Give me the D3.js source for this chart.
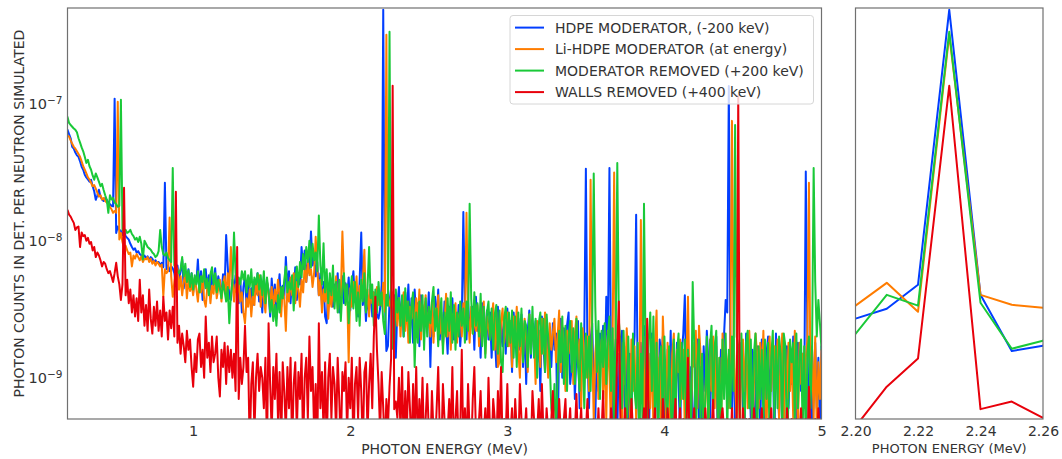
<!DOCTYPE html>
<html>
<head>
<meta charset="utf-8">
<script src="https://cdn.jsdelivr.net/npm/d3@7"></script>
<style>
  body { margin: 0; background: #fff; }
  svg { display: block; }
</style>
</head>
<body>
<svg id="chart" width="1062" height="459"></svg>
<script>
// Spectra binned at 10 keV starting at 0.16 MeV; counts stored in units of 1e-10
const E_START = 0.16;
const E_STEP = 0.01;
const UNIT = 1e-10;

const hdpe = [
  720, 700, 690, 670,
  660, 650, 646, 600, 560, 485, 470, 440, 420, 410,
  380, 347, 330, 303, 290, 280, 270, 279, 250, 230,
  199, 215, 236, 210, 200, 195, 205, 199, 190, 185,
  180, 178, 1090, 114, 127, 120, 118, 110, 120, 108,
  105, 102, 95, 90, 86, 88, 82, 84, 80, 78,
  76, 78, 74, 77, 72, 76, 74, 70, 72, 69,
  70, 66, 69, 64, 265, 62, 66, 60, 65, 63,
  58, 48, 66, 52, 60, 73, 45, 57, 50, 62,
  46, 58, 42, 54, 49, 73, 44, 60, 37, 52,
  62, 45, 56, 40, 58, 47, 63, 43, 55, 48,
  40, 57, 44, 110, 65, 38, 37, 52, 43, 56,
  48, 35, 52, 30, 46, 55, 33, 49, 38, 45,
  34, 52, 41, 58, 36, 47, 30, 55, 39, 50,
  44, 28, 53, 36, 48, 27, 42, 57, 33, 47,
  38, 76, 45, 60, 35, 55, 42, 64, 37, 58,
  48, 90, 62, 85, 50, 72, 58, 117, 66, 80,
  55, 70, 40, 58, 34, 50, 28, 25, 46, 36,
  52, 33, 48, 40, 58, 30, 45, 55, 35, 49,
  38, 54, 31, 46, 60, 36, 43, 28, 52, 115,
  34, 45, 26, 40, 30, 48, 28, 42, 33, 29,
  27, 31.9, 47.7, 4853, 40.3, 15.7, 17.1, 36, 45, 22,
  40, 14, 33, 46, 24, 38, 20, 42, 28, 48,
  22, 38, 18, 44, 26, 35, 17, 40, 30, 21,
  36, 24, 42, 12, 33, 20, 39, 25, 44, 19,
  30, 18, 36, 24, 15, 33, 22, 38, 19, 28,
  20, 34, 17, 26, 162, 31, 19, 36, 22, 29,
  33, 16, 39, 22, 28, 14, 35, 24, 18, 31,
  19, 30, 14, 27, 21, 12, 33, 13, 25, 17,
  28, 15, 32, 18, 26, 11, 30, 20, 14, 27,
  16, 29, 12, 25, 9, 22, 31, 14, 24, 18,
  26, 13, 22, 8, 28, 17, 11, 24, 15, 20,
  12, 25, 16, 21, 3, 19, 27, 10, 23, 14,
  24, 30, 9, 12, 20, 7, 16, 26, 6, 18,
  11, 22, 335, 15, 6, 19, 25, 9, 5, 17,
  8, 21, 13, 24, 10, 39, 18, 340, 14, 4,
  12, 19, 4, 15, 7, 22, 10, 5, 17, 3,
  15, 6, 13, 20, 155, 9, 4, 18, 8, 24,
  6, 16, 3, 12, 21, 9, 5, 17, 4, 19,
  14, 20, 7, 3, 16, 8, 22, 4, 13, 6,
  18, 9, 4, 15, 21, 40, 7, 17, 3, 12,
  6, 3, 14, 19, 5, 12, 4, 17, 8, 22,
  13, 4, 18, 7, 15, 20, 3, 6, 16, 9,
  21, 37, 30, 1350, 14, 6, 19, 4, 8, 17,
  9, 18, 6, 4, 21, 19, 12, 5, 16, 3,
  7, 17, 13, 4, 19, 8, 5, 15, 20, 6,
  14, 18, 3, 21, 10, 5, 16, 7, 19, 9,
  17, 6, 14, 9, 20, 13, 5, 18, 11, 8,
  15, 7, 320, 20, 4, 16, 3, 9, 18, 6,
  14, 4, 17, 10, 6
];

const liHdpe = [
  620, 610, 600, 590,
  585, 575, 540, 510, 485, 470, 450, 430, 410, 380,
  350, 330, 310, 290, 280, 265, 250, 255, 240, 225,
  210, 215, 200, 205, 195, 190, 185, 177, 170, 160,
  165, 160, 1035, 102, 114, 98, 88, 92, 85, 80,
  82, 65, 78, 74, 80, 76, 72, 77, 70, 74,
  73, 76, 70, 74, 68, 71, 66, 70, 68, 65,
  67, 39, 62, 58, 60, 148, 55, 39, 50, 65,
  62, 44, 55, 40, 50, 58, 38, 52, 43, 48,
  40, 53, 45, 36, 50, 42, 55, 37, 33, 46,
  49, 35, 47, 41, 56, 38, 45, 52, 36, 48,
  55, 40, 58, 45, 90, 52, 36, 48, 41, 50,
  36, 42, 30, 25, 38, 33, 44, 28, 40, 34,
  52, 40, 56, 33, 48, 38, 30, 50, 42, 35,
  46, 31, 44, 36, 52, 40, 28, 45, 38, 22,
  48, 36, 54, 40, 58, 35, 50, 44, 33, 52,
  42, 65, 50, 70, 56, 62, 46, 58, 107, 64,
  40, 52, 30, 44, 36, 48, 27, 42, 33, 46,
  36, 55, 32, 48, 40, 117, 52, 38, 45, 13,
  45, 33, 50, 36, 55, 30, 47, 39, 52, 86,
  32, 44, 28, 48, 35, 42, 30, 46, 34, 40,
  33.6, 49.3, 30.3, 3188, 40.3, 34.1, 32.4, 42, 26, 36,
  24, 38, 20, 34, 42, 22, 36, 18, 33, 27,
  35, 21, 38, 25, 44, 19, 34, 27, 40, 23,
  30, 20, 36, 18, 32, 26, 40, 21, 29, 17,
  24, 41, 20, 32, 16, 29, 22, 35, 18, 27,
  31, 20, 35, 23, 160, 30, 18, 33, 21, 28,
  22, 34, 17, 29, 20, 36, 15, 28, 23, 19,
  27, 35, 16, 30, 12, 13, 26, 32, 18, 24,
  30, 17, 26, 12, 28, 20, 33, 16, 10, 25,
  14, 27, 19, 11, 29, 16, 24, 21, 9, 26,
  22, 12, 27, 15, 30, 18, 10, 25, 16, 21,
  27, 13, 20, 31, 11, 24, 17, 8, 22, 15,
  18, 26, 9, 21, 28, 12, 19, 6, 23, 13,
  10, 20, 8, 279, 17, 5, 15, 22, 7, 14,
  19, 7, 17, 5, 22, 11, 4, 18, 315, 12,
  16, 21, 6, 4, 18, 9, 23, 13, 5, 19,
  8, 17, 5, 14, 6, 142, 15, 4, 20, 7,
  15, 6, 19, 4, 17, 31, 7, 14, 4, 28,
  13, 5, 18, 9, 3, 15, 21, 6, 16, 11,
  19, 7, 16, 4, 13, 39, 8, 5, 18, 12,
  22, 6, 24, 15, 9, 4, 7, 16, 3, 19,
  8, 20, 6, 17, 5, 14, 4, 21, 11, 16,
  13, 6, 18, 750, 20, 9, 5, 17, 4, 14,
  19, 8, 16, 6, 22, 12, 3, 9, 21, 15,
  6, 18, 10, 22, 7, 4, 16, 20, 8, 14,
  17, 9, 19, 5, 13, 21, 4, 16, 7, 18,
  8, 16, 5, 22, 12, 4, 18, 9, 15, 6,
  14, 19, 265, 8, 17, 5, 20, 4, 13, 7,
  16, 6, 14, 4, 9
];

const moderatorRemoved = [
  880, 850, 800, 725,
  700, 680, 660, 645, 620, 560, 520, 480, 450, 410,
  370, 390, 350, 330, 300, 279, 310, 290, 270, 250,
  260, 235, 215, 199, 160, 215, 200, 205, 190, 185,
  177, 180, 1070, 120, 118, 120, 114, 116, 120, 112,
  108, 102, 105, 98, 107, 95, 73, 100, 95, 90,
  88, 86, 82, 80, 76, 78, 84, 120, 90, 80,
  78, 82, 75, 72, 70, 340, 66, 62, 60, 58,
  62, 76, 55, 68, 50, 61, 46, 58, 44, 56,
  48, 60, 42, 55, 50, 62, 45, 53, 40, 57,
  64, 48, 58, 42, 52, 45, 38, 50, 43, 36,
  46, 25, 40, 50, 115, 58, 44, 54, 48, 60,
  52, 60, 42, 56, 46, 62, 40, 54, 48, 58,
  44, 56, 40, 60, 35, 54, 42, 30, 37, 26,
  34, 24, 40, 30, 46, 38, 52, 65, 42, 50,
  44, 56, 31, 52, 65, 46, 70, 54, 80, 62,
  90, 70, 100, 64, 95, 72, 82, 60, 153, 66,
  48, 96, 42, 62, 35, 58, 40, 66, 32, 50,
  30, 52, 26, 44, 58, 34, 48, 25, 40, 55,
  32, 50, 26, 42, 24, 52, 36, 58, 30, 46,
  90, 38, 48, 24, 44, 30, 50, 34, 42, 26,
  20.9, 40.3, 33.6, 3355, 35.3, 16.3, 18.6, 44, 30, 38,
  24, 40, 20, 45, 26, 36, 18, 34, 42, 12,
  30, 18, 36, 22, 40, 16, 38, 20, 33, 25,
  36, 46, 22, 32, 17, 28, 38, 15, 30, 20,
  38, 22, 42, 18, 34, 16, 30, 20, 36, 24,
  32, 18, 36, 22, 186, 38, 21, 42, 24, 35,
  20, 41, 17, 33, 14, 30, 36, 19, 32, 16,
  29, 34, 15, 31, 13, 11, 27, 33, 17, 30,
  18, 31, 14, 28, 12, 30, 17, 32, 13, 26,
  24, 12, 29, 15, 33, 14, 27, 10, 25, 30,
  15, 27, 11, 29, 20, 13, 6, 5, 9, 4,
  10, 22, 13, 28, 9, 24, 8, 20, 26, 11,
  23, 9, 27, 12, 8, 25, 14, 6, 21, 10,
  20, 8, 24, 310, 33, 11, 26, 7, 22, 12,
  25, 9, 20, 28, 8, 23, 5, 19, 370, 26,
  18, 6, 22, 9, 3, 20, 7, 5, 21, 8,
  6, 18, 3, 15, 5, 186, 16, 4, 19, 30,
  8, 28, 5, 18, 3, 14, 17, 4, 20, 7,
  5, 17, 7, 3, 19, 4, 15, 21, 6, 18,
  7, 19, 4, 16, 8, 5, 50, 17, 3, 13,
  19, 5, 15, 3, 7, 20, 4, 17, 24, 6,
  17, 22, 5, 14, 3, 19, 7, 21, 4, 16,
  6, 20, 8, 700, 20, 17, 5, 21, 8, 4,
  18, 22, 6, 19, 4, 15, 21, 3, 17, 7,
  16, 5, 19, 7, 18, 3, 14, 22, 5, 17,
  6, 20, 15, 4, 21, 17, 3, 7, 19, 13,
  18, 5, 21, 6, 14, 19, 4, 17, 3, 15,
  20, 6, 17, 340, 50, 20, 37, 25, 16, 30,
  22, 18, 12, 15, 10
];

const wallsRemoved = [
  168, 155, 150, 142,
  135, 120, 125, 127, 90, 115, 108, 110, 100, 105,
  95, 98, 85, 90, 76, 82, 78, 72, 65, 70,
  68, 62, 58, 60, 55, 50, 58, 69, 55, 48,
  37, 48, 244, 40, 52, 35, 44, 30, 40, 28,
  38, 26, 52, 30, 40, 24, 34, 22, 44, 27,
  21, 33, 24, 36, 22, 31, 20, 39, 26, 30,
  19, 31, 23, 33, 20, 228, 18, 24, 15, 21,
  17, 13, 22, 16, 19, 12, 8.6, 15, 11, 19,
  21, 12, 16, 10, 28, 14, 18, 11, 20, 13,
  15, 20, 10, 7.3, 16, 12, 18, 9, 17, 11,
  16, 10, 15, 8, 90, 7, 14, 9, 12, 24,
  11, 14, 3, 9, 13, 4, 10, 15, 8, 12,
  10, 6, 14, 3, 25, 9, 4, 12, 7, 15,
  5, 11, 3, 13, 8, 4, 12, 6, 14, 3,
  9, 13, 4, 11, 7, 15, 3, 10, 14, 5,
  20, 8, 12, 4, 9, 3, 25, 6, 11, 4,
  13, 3, 10, 15, 5, 12, 9, 4, 14, 7,
  3, 11, 8, 13, 4, 10, 6, 14, 3, 9,
  12, 5, 14, 8, 3, 11, 13, 4, 9, 15,
  6, 20, 39, 16, 9, 4, 11, 6, 3, 7,
  4.4, 8.6, 13.8, 1353, 5.9, 6.7, 5.1, 10, 4, 12,
  3, 8, 4, 11, 6, 3, 9, 4, 12, 3,
  7, 4, 10, 3, 5, 9, 4, 3, 8, 4,
  3, 6, 12, 4, 3, 9, 5, 3, 4, 7,
  4, 12, 3, 5, 8, 3, 4, 16, 3, 6,
  3, 9, 4, 3, 7, 12, 4, 3, 5, 8,
  3, 4, 6, 3, 10, 4, 3, 7, 5, 3,
  8, 4, 12, 3, 5, 4, 9, 3, 4, 6,
  3, 7, 4, 3, 9, 5, 3, 4, 6, 3,
  4, 3, 8, 5, 3, 4, 7, 3, 9, 4,
  3, 6, 4, 3, 5, 8, 3, 4, 3, 7,
  4, 3, 5, 7, 3, 4, 6, 3, 5, 4,
  7.6, 3, 4, 6, 3, 5, 4, 7, 3, 4,
  3, 5, 4, 3, 6, 3, 4, 8, 3, 5,
  4, 3, 6, 4, 3, 5, 17, 36, 5, 3,
  4, 6, 3, 5, 3, 7, 4, 3, 5, 4,
  3, 5, 4, 6, 3, 27, 4, 3, 5, 4,
  6, 3, 4, 5, 3, 7, 4, 3, 6, 4,
  3, 5, 4, 7, 3, 4, 6, 3, 5, 4,
  4, 14, 3, 5, 4, 6, 3, 4, 5, 3,
  5, 3, 6, 4, 3, 5, 4, 6.9, 3, 5,
  4, 3, 5, 6, 4, 3, 5, 4, 3, 6,
  3, 5, 4, 1150, 4, 3, 6, 4, 5, 3,
  5, 4, 3, 6, 4, 5, 3, 4, 6, 3,
  4, 3, 5, 4, 6, 3, 4, 5, 3, 4,
  3, 5, 4, 3, 6, 4, 3, 5, 4, 3,
  5, 3, 4, 6, 3, 4, 5, 3, 8.6, 4,
  3, 4, 5, 3, 6, 4, 3, 5, 4, 3,
  4, 3, 5, 4, 3
];

const seriesLabels = [
  "HDPE MODERATOR, (-200 keV)",
  "Li-HDPE MODERATOR (at energy)",
  "MODERATOR REMOVED (+200 keV)",
  "WALLS REMOVED (+400 keV)"
];
const seriesColors = ["#023eff", "#ff7c00", "#1ac938", "#e8000b"];
// horizontal display offset of each spectrum in the overview panel (MeV)
const seriesOffsets = [-0.02, 0, 0.02, 0.04];

const xTicksMain = [1, 2, 3, 4, 5];
const xTicksZoom = [2.20, 2.22, 2.24, 2.26];
const yTicks = [1e-9, 1e-8, 1e-7];
const xDomainMain = [0.2, 5.0];
const xDomainZoom = [2.20, 2.26];
const yDomain = [5e-10, 5e-7];

const xLabel = "PHOTON ENERGY (MeV)";
const yLabel = "PHOTON COUNTS IN DET. PER NEUTRON SIMULATED";

// ---------------------------------------------------------------
const FONT = "'DejaVu Sans', 'Liberation Sans', sans-serif";
const TEXT_COLOR = "#333";
const FRAME_COLOR = "#707070";

const svg = d3.select("#chart");
svg.append("rect").attr("width", 1062).attr("height", 459).attr("fill", "#fff");

const mainBox = { left: 67.5, right: 821.5, top: 8, bottom: 419 };
const zoomBox = { left: 855.5, right: 1043, top: 8, bottom: 419 };

const x = d3.scaleLinear().domain(xDomainMain).range([mainBox.left, mainBox.right]);
const xz = d3.scaleLinear().domain(xDomainZoom).range([zoomBox.left, zoomBox.right]);
const y = d3.scaleLog().domain(yDomain).range([mainBox.bottom, mainBox.top]);

const raw = [hdpe, liHdpe, moderatorRemoved, wallsRemoved];
raw.forEach((arr, k) => {
  if (arr.length !== raw[0].length) throw new Error("series " + k + " has " + arr.length + " bins");
});

const series = raw.map((vals, k) => ({
  label: seriesLabels[k],
  color: seriesColors[k],
  offset: seriesOffsets[k],
  points: vals.map((v, i) => ({ e: +(E_START + i * E_STEP).toFixed(2), v: v * UNIT }))
}));

const defs = svg.append("defs");
defs.append("clipPath").attr("id", "clip-main").append("rect")
  .attr("x", mainBox.left).attr("y", mainBox.top)
  .attr("width", mainBox.right - mainBox.left).attr("height", mainBox.bottom - mainBox.top);
defs.append("clipPath").attr("id", "clip-zoom").append("rect")
  .attr("x", zoomBox.left).attr("y", zoomBox.top)
  .attr("width", zoomBox.right - zoomBox.left).attr("height", zoomBox.bottom - zoomBox.top);

// overview spectra
const gMain = svg.append("g").attr("clip-path", "url(#clip-main)");
series.forEach(s => {
  const line = d3.line().x(d => x(d.e + s.offset)).y(d => y(d.v));
  gMain.append("path")
    .datum(s.points)
    .attr("d", line)
    .attr("fill", "none")
    .attr("stroke", s.color)
    .attr("stroke-width", 2)
    .attr("stroke-linejoin", "round");
});

// close-up of the 2.23 MeV capture line (no offsets)
const gZoom = svg.append("g").attr("clip-path", "url(#clip-zoom)");
series.forEach(s => {
  const line = d3.line().x(d => xz(d.e)).y(d => y(d.v));
  gZoom.append("path")
    .datum(s.points.filter(d => d.e >= 2.15 && d.e <= 2.31))
    .attr("d", line)
    .attr("fill", "none")
    .attr("stroke", s.color)
    .attr("stroke-width", 2)
    .attr("stroke-linejoin", "round");
});

// frames
[mainBox, zoomBox].forEach(b => {
  svg.append("rect")
    .attr("x", b.left).attr("y", b.top)
    .attr("width", b.right - b.left).attr("height", b.bottom - b.top)
    .attr("fill", "none").attr("stroke", FRAME_COLOR).attr("stroke-width", 1.2);
});

// axes
function styleAxis(g, size) {
  g.attr("font-family", FONT).attr("font-size", size).style("color", TEXT_COLOR);
  g.select(".domain").remove();
  g.selectAll(".tick line").remove();
}

svg.append("g")
  .attr("transform", `translate(0,${mainBox.bottom})`)
  .call(d3.axisBottom(x).tickValues(xTicksMain).tickFormat(d3.format("d")).tickSize(0).tickPadding(7))
  .call(g => styleAxis(g, 14.5));

svg.append("g")
  .attr("transform", `translate(0,${zoomBox.bottom})`)
  .call(d3.axisBottom(xz).tickValues(xTicksZoom).tickFormat(d3.format(".2f")).tickSize(0).tickPadding(7))
  .call(g => styleAxis(g, 14));

const gy = svg.append("g")
  .attr("transform", `translate(${mainBox.left},0)`)
  .call(d3.axisLeft(y).tickValues(yTicks).tickFormat(() => "").tickSize(0).tickPadding(5))
  .call(g => styleAxis(g, 14.5));

gy.selectAll(".tick text").each(function (d) {
  const t = d3.select(this);
  t.append("tspan").text("10");
  t.append("tspan")
    .attr("dy", "-0.45em")
    .attr("font-size", 10.5)
    .text("\u2212" + Math.round(-Math.log10(d)));
});

// axis titles
svg.append("text")
  .attr("x", (mainBox.left + mainBox.right) / 2).attr("y", 449)
  .attr("text-anchor", "middle").attr("dominant-baseline", "central")
  .attr("font-family", FONT).attr("font-size", 14).attr("fill", TEXT_COLOR)
  .text(xLabel);

svg.append("text")
  .attr("x", (zoomBox.left + zoomBox.right) / 2).attr("y", 448)
  .attr("text-anchor", "middle").attr("dominant-baseline", "central")
  .attr("font-family", FONT).attr("font-size", 13).attr("fill", TEXT_COLOR)
  .text(xLabel);

svg.append("text")
  .attr("transform", `translate(18.5,${(mainBox.top + mainBox.bottom) / 2}) rotate(-90)`)
  .attr("text-anchor", "middle").attr("dominant-baseline", "central")
  .attr("font-family", FONT).attr("font-size", 14).attr("fill", TEXT_COLOR)
  .text(yLabel);

// legend
const legend = svg.append("g");
legend.append("rect")
  .attr("x", 510).attr("y", 15.5).attr("width", 303.5).attr("height", 88.5).attr("rx", 3)
  .attr("fill", "#fff").attr("fill-opacity", 0.8)
  .attr("stroke", "#d6d6d6").attr("stroke-width", 1);

const rows = legend.selectAll("g.entry").data(series).join("g")
  .attr("class", "entry")
  .attr("transform", (d, i) => `translate(0,${27.6 + i * 21.5})`);
rows.append("line")
  .attr("x1", 515).attr("x2", 544).attr("y1", 0).attr("y2", 0)
  .attr("stroke", d => d.color).attr("stroke-width", 2);
rows.append("text")
  .attr("x", 555).attr("y", 0).attr("dominant-baseline", "central")
  .attr("font-family", FONT).attr("font-size", 14).attr("fill", TEXT_COLOR)
  .text(d => d.label);
</script>
</body>
</html>
